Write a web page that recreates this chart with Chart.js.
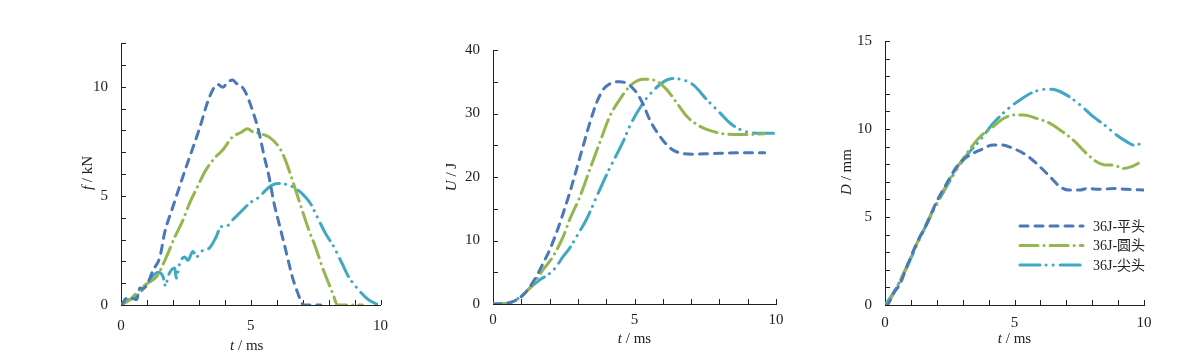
<!DOCTYPE html>
<html>
<head>
<meta charset="utf-8">
<script src="https://cdn.jsdelivr.net/npm/chart.js@4.4.1/dist/chart.umd.min.js"></script>
<style>
  body { margin: 0; background: #fff; width: 1201px; height: 364px; overflow: hidden; position: relative; }
  canvas { position: absolute; top: 0; }
</style>
</head>
<body>
<canvas id="chartF" width="400" height="364" style="left:0"></canvas>
<canvas id="chartU" width="400" height="364" style="left:400px"></canvas>
<canvas id="chartD" width="401" height="364" style="left:800px"></canvas>
<script>
const names = ['36J-平头', '36J-圆头', '36J-尖头'];
const colors = ['#4a78b8', '#93b64d', '#3fa8c4'];
const dashes = [[8, 7], [18, 6, 0.1, 6], [20, 6, 0.1, 7, 0.1, 7]];

// force f (kN) vs t (ms)
const fFlatT  = [0, 0.1, 0.2, 0.3, 0.45, 0.6, 0.73, 0.85, 1.0, 1.24, 1.5, 1.68, 2.0, 2.39, 2.77, 3.03, 3.4, 3.73, 3.92, 4.1, 4.3, 4.45, 4.62, 4.8, 5.07, 5.3, 5.52, 5.7, 5.9, 6.09, 6.35, 6.6, 6.79, 7.05, 7.7];
const fFlat   = [0, 0.15, 0.3, 0.25, 0.3, 0.25, 0.78, 0.75, 0.93, 1.6, 2.2, 3.3, 4.5, 5.9, 7.2, 8.1, 9.5, 10.1, 9.97, 10.2, 10.3, 10.15, 10.05, 9.74, 8.9, 8.0, 6.8, 5.9, 4.65, 3.74, 2.5, 1.3, 0.62, 0, 0];
const fRoundT = [0, 0.3, 0.6, 0.86, 1.1, 1.37, 1.75, 2.07, 2.39, 2.64, 2.9, 3.28, 3.66, 3.92, 4.3, 4.62, 4.88, 5.05, 5.2, 5.3, 5.5, 5.7, 6.09, 6.28, 6.47, 6.73, 6.98, 7.24, 7.49, 7.75, 8.0, 8.2, 8.33, 9.3];
const fRound  = [0, 0.2, 0.55, 0.85, 1.05, 1.3, 2.2, 3.1, 3.9, 4.65, 5.3, 6.2, 6.8, 7.1, 7.7, 7.9, 8.07, 7.95, 7.85, 7.9, 7.8, 7.7, 7.23, 6.8, 6.2, 5.26, 4.35, 3.43, 2.67, 1.76, 1.0, 0.4, 0, 0];
const fSharpT = [0, 0.2, 0.45, 0.73, 1.1, 1.43, 1.62, 1.72, 1.81, 2.07, 2.13, 2.26, 2.45, 2.58, 2.77, 2.9, 3.15, 3.4, 3.66, 3.86, 4.05, 4.3, 4.62, 4.94, 5.33, 5.58, 5.84, 6.09, 6.47, 6.73, 6.98, 7.3, 7.56, 7.88, 8.2, 8.52, 8.77, 9.15, 9.54, 9.92];
const fSharp  = [0, 0.2, 0.3, 0.55, 1.15, 1.5, 1.3, 0.85, 1.3, 1.7, 1.23, 1.9, 2.2, 2.05, 2.45, 2.2, 2.5, 2.6, 3.1, 3.6, 3.6, 3.9, 4.27, 4.65, 4.95, 5.26, 5.5, 5.56, 5.49, 5.33, 5.1, 4.65, 4.04, 3.28, 2.67, 1.9, 1.3, 0.7, 0.24, 0];

// energy U (J) vs t (ms)
const uFlatT  = [0, 0.47, 0.83, 1.06, 1.3, 1.53, 1.77, 2.0, 2.24, 2.48, 2.71, 2.95, 3.18, 3.42, 3.66, 3.9, 4.19, 4.48, 4.78, 5.07, 5.31, 5.54, 5.9, 6.25, 6.6, 7.08, 7.78, 8.6, 9.6];
const uFlat   = [0, 0.1, 0.63, 1.4, 2.7, 4.3, 6.4, 8.5, 11.2, 14.3, 17.5, 21.2, 24.8, 28.5, 31.7, 33.8, 34.8, 35.0, 34.6, 33.3, 31.4, 29.0, 26.4, 24.6, 23.8, 23.6, 23.7, 23.8, 23.8];
const uRoundT = [0, 0.5, 0.9, 1.3, 1.77, 2.12, 2.48, 2.71, 3.07, 3.42, 3.77, 4.13, 4.48, 4.83, 5.31, 5.78, 6.13, 6.49, 6.84, 7.19, 7.55, 8.02, 8.49, 9.08, 9.6];
const uRound  = [0, 0.1, 0.9, 2.5, 5.4, 7.5, 10.6, 13.3, 16.9, 21.2, 25.4, 29.6, 32.2, 34.3, 35.4, 35.1, 33.8, 31.7, 29.6, 28.3, 27.5, 26.9, 26.7, 26.7, 26.8];
const uSharpT = [0, 0.5, 0.9, 1.3, 1.65, 2.0, 2.24, 2.48, 2.71, 2.95, 3.3, 3.66, 4.07, 4.6, 4.83, 5.31, 5.54, 6.0, 6.37, 6.72, 7.08, 7.55, 8.02, 8.37, 8.73, 9.08, 9.55, 10];
const uSharp  = [0, 0.1, 0.9, 2.5, 3.8, 4.8, 5.9, 7.5, 8.8, 10.6, 13.3, 16.9, 20.9, 25.6, 28.0, 31.7, 33.0, 34.9, 35.5, 35.3, 34.5, 32.2, 30.1, 28.5, 27.5, 27.0, 26.9, 26.9];

// deflection D (mm) vs t (ms)
const dFlatT  = [0, 0.13, 0.32, 0.58, 0.84, 1.22, 1.61, 1.99, 2.38, 2.77, 3.15, 3.67, 4.18, 4.5, 4.95, 5.47, 5.98, 6.37, 6.76, 7.08, 7.53, 7.79, 8.3, 8.82, 9.33, 9.97];
const dFlat   = [0, 0.08, 0.65, 1.2, 2.16, 3.5, 4.6, 5.86, 6.9, 7.86, 8.4, 8.8, 9.09, 9.09, 8.9, 8.5, 7.86, 7.29, 6.72, 6.53, 6.53, 6.62, 6.57, 6.62, 6.57, 6.53];
const dRoundT = [0, 0.15, 0.35, 0.71, 1.35, 1.99, 2.64, 3.15, 3.67, 4.18, 4.57, 5.0, 5.34, 5.86, 6.37, 6.76, 7.27, 7.79, 8.17, 8.56, 8.82, 9.2, 9.52, 9.78];
const dRound  = [0, 0.2, 0.7, 1.78, 3.87, 5.77, 7.48, 8.6, 9.56, 10.13, 10.6, 10.8, 10.8, 10.6, 10.32, 9.94, 9.37, 8.6, 8.14, 7.95, 7.95, 7.76, 7.86, 8.05];
const dSharpT = [0, 0.15, 0.35, 0.7, 1.35, 1.99, 2.64, 3.15, 3.67, 4.18, 4.7, 5.21, 5.73, 6.24, 6.63, 7.0, 7.53, 8.04, 8.56, 8.94, 9.33, 9.59, 9.85];
const dSharp  = [0, 0.3, 0.75, 1.7, 3.8, 5.7, 7.4, 8.5, 9.37, 10.32, 11.08, 11.65, 12.1, 12.26, 12.2, 11.94, 11.37, 10.7, 10.13, 9.66, 9.28, 9.09, 9.15];

const serif = '"Liberation Serif", "Times New Roman", serif';
const ink = '#222';
const fontPx = 15;

const pts = (ts, vs) => ts.map((t, i) => ({x: t, y: vs[i]}));

// little tick marks pointing into the plot
const innerTicks = {
  id: 'innerTicks',
  beforeDatasetsDraw(chart) {
    const {ctx, chartArea: a, scales: {x, y}} = chart;
    ctx.save();
    ctx.strokeStyle = ink;
    ctx.lineWidth = 1;
    ctx.beginPath();
    x.ticks.forEach(t => {
      const p = Math.round(x.getPixelForValue(t.value)) + 0.5;
      ctx.moveTo(p, a.bottom);
      ctx.lineTo(p, a.bottom - 5);
    });
    y.ticks.forEach(t => {
      const p = Math.round(y.getPixelForValue(t.value)) + 0.5;
      ctx.moveTo(a.left, p);
      ctx.lineTo(a.left + 5, p);
    });
    ctx.stroke();
    ctx.restore();
  }
};

function drawMixed(ctx, parts, cx, cy) {
  const fonts = ['italic ' + fontPx + 'px ' + serif, fontPx + 'px ' + serif];
  const w = parts.map((s, i) => { ctx.font = fonts[i]; return ctx.measureText(s).width; });
  let x = cx - (w[0] + w[1]) / 2;
  parts.forEach((s, i) => {
    ctx.font = fonts[i];
    ctx.fillText(s, x, cy);
    x += w[i];
  });
}

const axisTitles = {
  id: 'axisTitles',
  afterDraw(chart, args, o) {
    const {ctx, chartArea: a} = chart;
    ctx.save();
    ctx.fillStyle = ink;
    ctx.textAlign = 'left';
    ctx.textBaseline = 'middle';
    drawMixed(ctx, o.x, (a.left + a.right) / 2 + (o.xShift || 0), o.xY);
    ctx.translate(a.left - o.yGap, o.yMid);
    ctx.rotate(-Math.PI / 2);
    drawMixed(ctx, o.y, 0, 0);
    ctx.restore();
  }
};

const lineLegend = {
  id: 'lineLegend',
  afterDraw(chart, args, o) {
    if (!o.show) return;
    const ctx = chart.ctx;
    ctx.save();
    chart.data.datasets.forEach((ds, i) => {
      const y = o.y + i * o.gap;
      ctx.strokeStyle = ds.borderColor;
      ctx.lineWidth = ds.borderWidth;
      ctx.lineCap = 'round';
      ctx.setLineDash(ds.borderDash);
      ctx.beginPath();
      ctx.moveTo(o.x, y);
      ctx.lineTo(o.x + o.len, y);
      ctx.stroke();
      ctx.setLineDash([]);
      ctx.fillStyle = ink;
      ctx.font = '14px ' + serif + ', "Noto Sans CJK SC"';
      ctx.textBaseline = 'middle';
      ctx.fillText(ds.label, o.x + o.len + 10, y + 1);
    });
    ctx.restore();
  }
};

function makeChart(id, box, yAxis, series, titles, legend) {
  const canvas = document.getElementById(id);
  const W = canvas.width, H = canvas.height;
  return new Chart(canvas, {
    type: 'line',
    data: {
      datasets: series.map((s, i) => ({
        label: names[i],
        data: s,
        borderColor: colors[i],
        borderWidth: 3,
        borderDash: dashes[i],
        borderCapStyle: 'round',
        pointRadius: 0,
        fill: false,
        cubicInterpolationMode: 'monotone'
      }))
    },
    options: {
      responsive: false,
      animation: false,
      devicePixelRatio: 1,
      layout: { padding: { left: 0, top: box.top, right: W - box.right, bottom: 0 } },
      scales: {
        x: {
          type: 'linear', min: 0, max: 10,
          grid: { display: false, drawTicks: false },
          border: { display: true, color: ink, width: 1 },
          ticks: {
            stepSize: 1, autoSkip: false, maxRotation: 0, padding: box.xPad,
            color: ink, font: { family: serif, size: fontPx },
            callback: v => (v % 5 === 0 ? v : '')
          },
          afterFit: s => { s.height = H - box.bottom; }
        },
        y: {
          type: 'linear', min: 0, max: yAxis.max,
          grid: { display: false, drawTicks: false },
          border: { display: true, color: ink, width: 1 },
          ticks: {
            stepSize: yAxis.step, autoSkip: false, padding: 13,
            color: ink, font: { family: serif, size: fontPx },
            callback: v => (v % yAxis.label === 0 ? v : '')
          },
          afterFit: s => { s.width = box.left; }
        }
      },
      plugins: {
        legend: { display: false },
        tooltip: { enabled: false },
        axisTitles: titles,
        lineLegend: legend || { show: false }
      }
    },
    plugins: [innerTicks, axisTitles, lineLegend]
  });
}

makeChart('chartF', { left: 121, top: 43, right: 382, bottom: 305, xPad: 12 },
  { max: 12, step: 1, label: 5 },
  [pts(fFlatT, fFlat), pts(fRoundT, fRound), pts(fSharpT, fSharp)],
  { x: ['t', ' / ms'], xY: 346, xShift: -4, y: ['f', ' / kN'], yGap: 33, yMid: 173 });

makeChart('chartU', { left: 93, top: 50, right: 376, bottom: 304, xPad: 7 },
  { max: 40, step: 5, label: 10 },
  [pts(uFlatT, uFlat), pts(uRoundT, uRound), pts(uSharpT, uSharp)],
  { x: ['t', ' / ms'], xY: 339, y: ['U', ' / J'], yGap: 41, yMid: 177 });

makeChart('chartD', { left: 85, top: 41, right: 344, bottom: 305, xPad: 9 },
  { max: 15, step: 1, label: 5 },
  [pts(dFlatT, dFlat), pts(dRoundT, dRound), pts(dSharpT, dSharp)],
  { x: ['t', ' / ms'], xY: 339, y: ['D', ' / mm'], yGap: 38, yMid: 172 },
  { show: true, x: 220, y: 226, gap: 19.5, len: 63 });
</script>
</body>
</html>
